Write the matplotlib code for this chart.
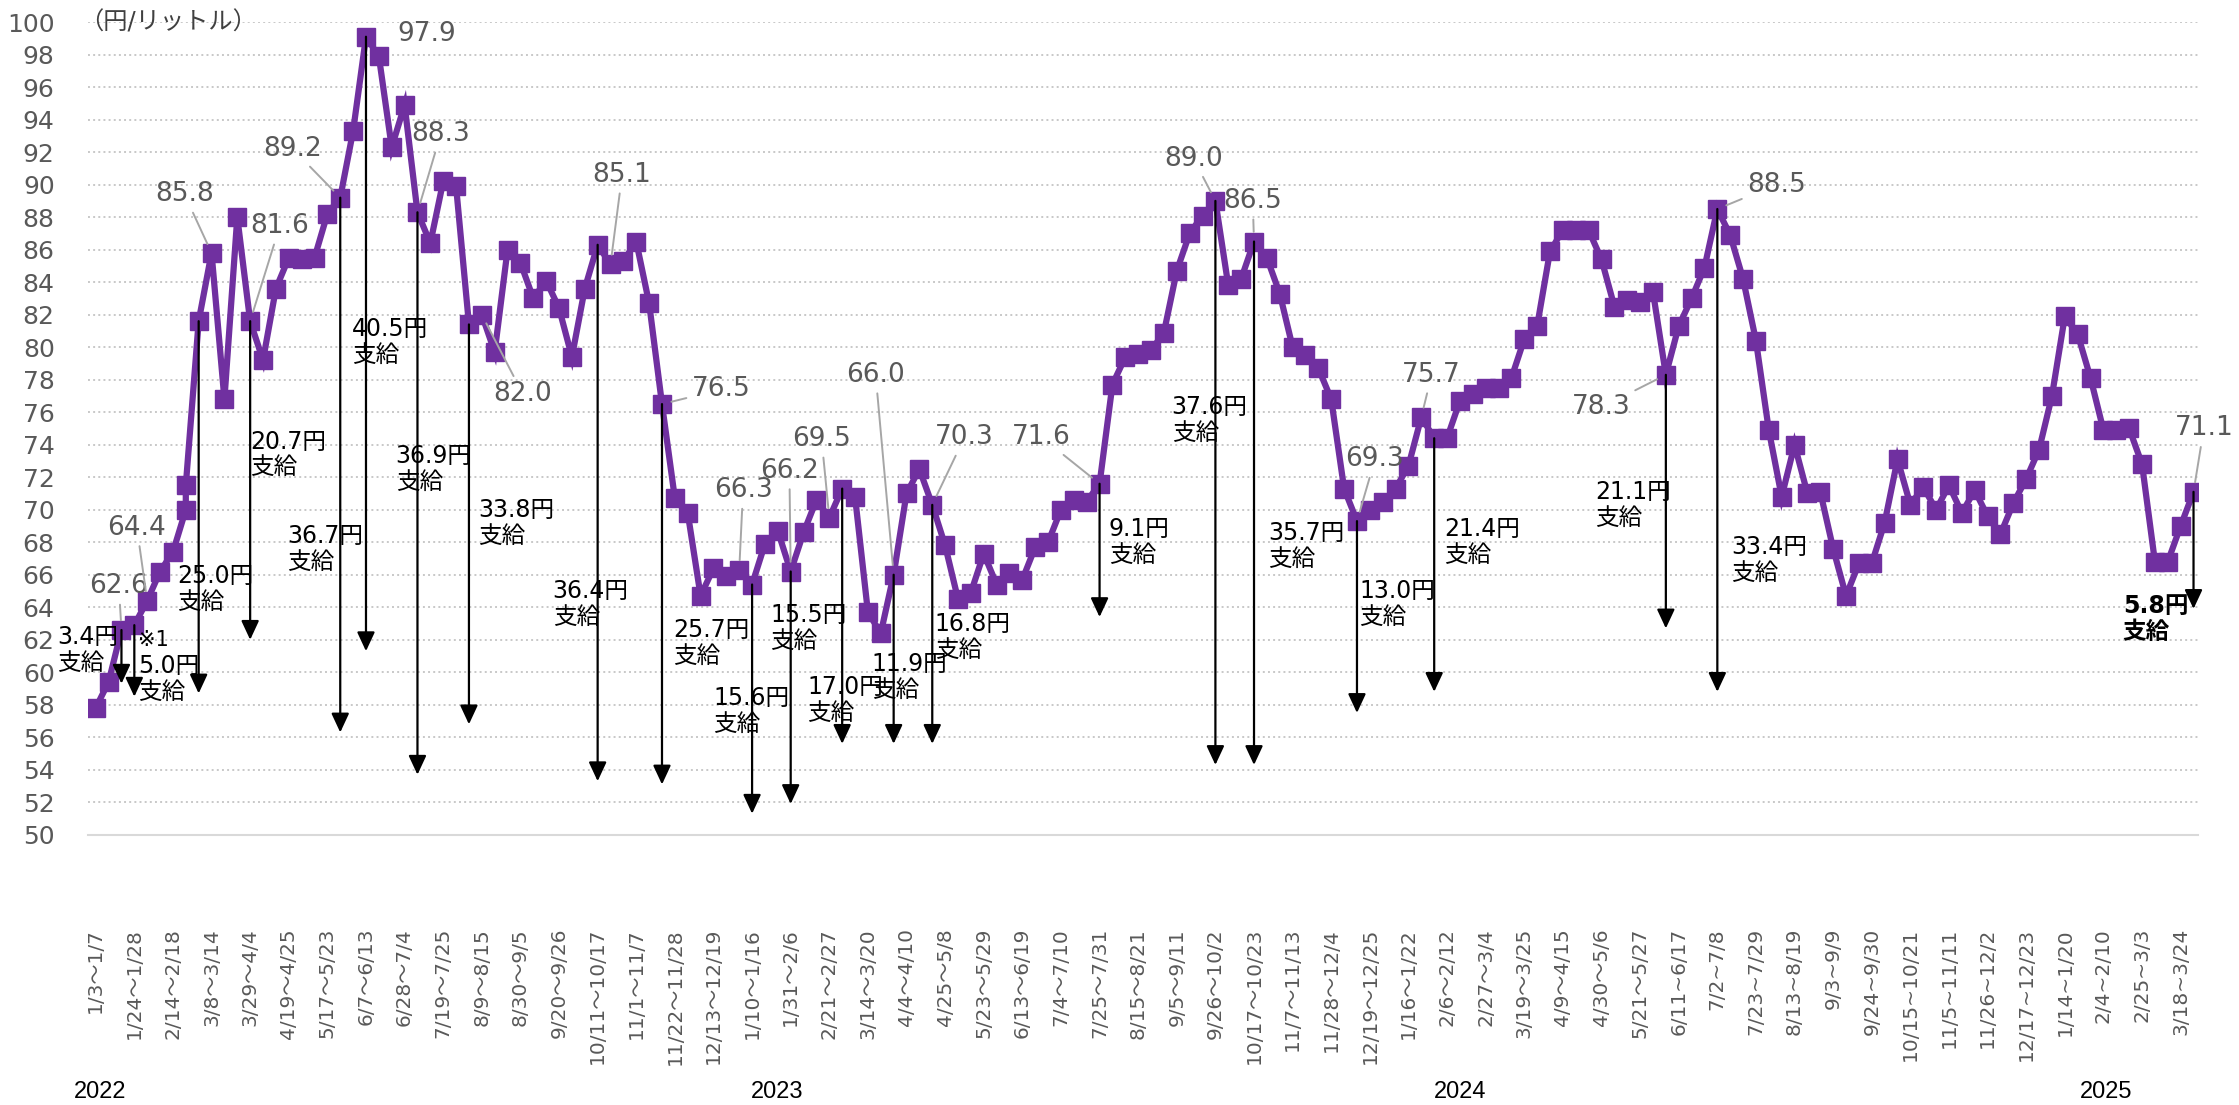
import numpy as np
import matplotlib
matplotlib.use("Agg")
import matplotlib.pyplot as plt
from matplotlib import transforms

plt.rcParams['font.family'] = ['DejaVu Sans', 'Noto Sans CJK JP']

# weekly price (yen / litre), one value per week; week 7 has two readings
price = [
    57.8, 59.4, 62.6, 62.9, 64.4, 66.2, 67.4, 70.0, 71.5, 81.6,
    85.8, 76.8, 88.0, 81.6, 79.2, 83.6, 85.5, 85.4, 85.5, 88.2,
    89.2, 93.3, 99.1, 97.9, 92.3, 94.9, 88.3, 86.4, 90.2, 89.9,
    81.4, 82.0, 79.7, 86.0, 85.2, 83.0, 84.1, 82.4, 79.4, 83.6,
    86.3, 85.1, 85.3, 86.5, 82.7, 76.5, 70.7, 69.8, 64.7, 66.4,
    65.9, 66.3, 65.4, 67.9, 68.7, 66.2, 68.6, 70.6, 69.5, 71.3,
    70.8, 63.7, 62.4, 66.0, 71.0, 72.5, 70.3, 67.8, 64.5, 64.9,
    67.3, 65.4, 66.1, 65.7, 67.7, 68.0, 70.0, 70.6, 70.5, 71.6,
    77.7, 79.4, 79.6, 79.8, 80.9, 84.7, 87.0, 88.1, 89.0, 83.8,
    84.2, 86.5, 85.5, 83.3, 80.0, 79.5, 78.7, 76.8, 71.3, 69.3,
    70.0, 70.5, 71.3, 72.7, 75.7, 74.4, 74.4, 76.7, 77.1, 77.5,
    77.5, 78.1, 80.5, 81.3, 85.9, 87.2, 87.2, 87.2, 85.4, 82.5,
    82.9, 82.8, 83.4, 78.3, 81.3, 83.0, 84.9, 88.5, 86.9, 84.2,
    80.4, 74.9, 70.8, 74.0, 71.0, 71.1, 67.6, 64.7, 66.7, 66.7,
    69.2, 73.1, 70.3, 71.4, 70.0, 71.5, 69.8, 71.2, 69.6, 68.5,
    70.4, 71.9, 73.7, 77.0, 81.9, 80.8, 78.1, 74.9, 74.9, 75.0,
    72.8, 66.8, 66.8, 69.0, 71.1,
]
double_week = 7

week_labels = [
    '1/3～1/7', '1/24～1/28', '2/14～2/18', '3/8～3/14', '3/29～4/4',
    '4/19～4/25', '5/17～5/23', '6/7～6/13', '6/28～7/4', '7/19～7/25',
    '8/9～8/15', '8/30～9/5', '9/20～9/26', '10/11～10/17', '11/1～11/7',
    '11/22～11/28', '12/13～12/19', '1/10～1/16', '1/31～2/6', '2/21～2/27',
    '3/14～3/20', '4/4～4/10', '4/25～5/8', '5/23～5/29', '6/13～6/19',
    '7/4～7/10', '7/25～7/31', '8/15～8/21', '9/5～9/11', '9/26～10/2',
    '10/17～10/23', '11/7～11/13', '11/28～12/4', '12/19～12/25', '1/16～1/22',
    '2/6～2/12', '2/27～3/4', '3/19～3/25', '4/9～4/15', '4/30～5/6',
    '5/21～5/27', '6/11~6/17', '7/2~7/8', '7/23~7/29', '8/13~8/19',
    '9/3~9/9', '9/24~9/30', '10/15~10/21', '11/5~11/11', '11/26~12/2',
    '12/17~12/23', '1/14~1/20', '2/4~2/10', '2/25~3/3', '3/18~3/24',
]

years = ['2022', '2023', '2024', '2025']
year_pos = [-1.7, 50.9, 104.0, 154.2]

# subsidy arrows: week, arrow end, text, text left x, text centre y
subsidy_week = [2, 3, 8, 12, 19, 21, 25, 29, 39, 44, 51, 54, 58, 62, 65,
                78, 87, 90, 98, 104, 122, 126, 163]
subsidy_end = [59.3, 58.5, 58.7, 62.0, 56.3, 61.3, 53.7, 56.8, 53.3, 53.1,
               51.3, 51.9, 55.6, 55.6, 55.6, 63.4, 54.3, 54.3, 57.5, 58.8,
               62.7, 58.8, 63.9]
subsidy_text = ['3.4円', '5.0円', '25.0円', '20.7円', '36.7円', '40.5円',
                '36.9円', '33.8円', '36.4円', '25.7円', '15.6円', '15.5円',
                '17.0円', '11.9円', '16.8円', '9.1円', '37.6円', '35.7円',
                '13.0円', '21.4円', '21.1円', '33.4円', '5.8円']
subsidy_tx = [-3.0, 3.3, 6.3, 12.0, 14.9, 19.9, 23.3, 29.7, 35.5, 44.9,
              48.0, 52.4, 55.3, 60.3, 65.2, 78.7, 83.6, 91.1, 98.2, 104.8,
              116.5, 127.1, 157.5]
subsidy_ty = [61.4, 59.6, 65.1, 73.4, 67.6, 80.3, 72.5, 69.2, 64.2, 61.8,
              57.6, 62.7, 58.3, 59.7, 62.2, 68.0, 75.5, 67.8, 64.2, 68.0,
              70.3, 66.9, 63.3]

# value labels: week, label centre x, label centre y
label_week = [2, 4, 9, 12, 19, 22, 25, 30, 40, 44, 50, 54, 57, 62, 65,
              78, 87, 90, 98, 103, 122, 126, 163]
label_x = [1.8, 3.2, 6.9, 14.3, 15.3, 25.7, 26.8, 33.2, 40.9, 48.6, 50.3,
           53.9, 56.4, 60.6, 67.5, 73.5, 85.3, 89.9, 99.4, 103.8, 117.0,
           130.6, 163.8]
label_y = [65.3, 68.9, 89.4, 87.45, 92.2, 99.25, 93.1, 77.1, 90.6, 77.4,
           71.2, 72.4, 74.35, 78.3, 74.45, 74.45, 91.6, 89.0, 73.1, 78.3,
           76.3, 90.0, 75.0]

n_weeks = len(price) - 1
weeks = np.insert(np.arange(n_weeks), double_week + 1, double_week)


def value_at(w):
    return price[w + (1 if w > double_week else 0)]


fig = plt.figure(figsize=(22.39, 11.05), dpi=100)
ax = fig.add_axes([0.0393, 0.2445, 0.9424, 0.7355])

purple = '#7030A0'
ax.plot(weeks, price, color=purple, lw=4.5, marker='s', markersize=13.5,
        markerfacecolor=purple, markeredgecolor=purple, zorder=3,
        solid_joinstyle='miter')

ax.set_ylim(50, 100)
ax.set_xlim(-0.6, n_weeks - 0.65)
ax.set_yticks(np.arange(50, 101, 2))
ax.tick_params(axis='y', length=0, pad=24, labelsize=18, labelcolor='#595959')
ax.set_xticks(np.arange(0, n_weeks, 3))
ax.set_xticklabels(week_labels, rotation=90, fontsize=14.5, color='#595959')
ax.tick_params(axis='x', length=0, pad=67)
ax.yaxis.grid(True, linestyle=':', color='#c8c8c8', lw=1.4)
ax.set_axisbelow(True)
for s in ['left', 'right', 'top']:
    ax.spines[s].set_visible(False)
ax.spines['bottom'].set_color('#d9d9d9')
ax.spines['bottom'].set_linewidth(1.5)

ax.text(-0.004, 1.0, '（円/リットル）', transform=ax.transAxes, ha='left',
        va='center', fontsize=17.5, color='#404040')

# subsidy arrows and their labels
for w, end, txt, tx, ty in zip(subsidy_week, subsidy_end, subsidy_text,
                               subsidy_tx, subsidy_ty):
    ax.annotate('', xy=(w, end), xytext=(w, value_at(w)),
                arrowprops=dict(arrowstyle='-|>,head_length=0.58,head_width=0.27',
                                mutation_scale=20, color='black', lw=1.6,
                                shrinkA=0, shrinkB=0), zorder=4)
    bold = 'bold' if w == subsidy_week[-1] else 'normal'
    ax.text(tx, ty, txt + '\n支給', ha='left', va='center', fontsize=17,
            color='black', fontweight=bold, linespacing=1.1, zorder=5)
ax.text(3.3, 62.0, '※1', ha='left', va='center', fontsize=15, color='black',
        zorder=5)

# price labels with leader lines
for w, lx, ly in zip(label_week, label_x, label_y):
    v = value_at(w)
    props = dict(arrowstyle='-', color='#a6a6a6', lw=1.4, shrinkA=2, shrinkB=7)
    if w == 22:
        props = None
    ax.annotate(f'{v:.1f}', xy=(w, v), xytext=(lx, ly), ha='center',
                va='center', fontsize=19, color='#595959',
                arrowprops=props, zorder=5)

trans = transforms.blended_transform_factory(ax.transData, fig.transFigure)
for yr, pos in zip(years, year_pos):
    ax.text(pos, 0.012, yr, transform=trans, ha='left', va='center',
            fontsize=17, family='Liberation Sans', color='black')

fig.savefig('out.png', dpi=100)
